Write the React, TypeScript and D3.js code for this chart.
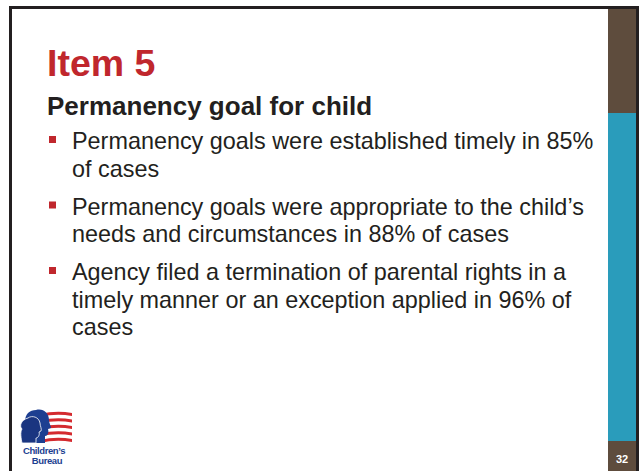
import * as d3 from 'd3';

const W = 640;
const H = 471;

const titleText = 'Item 5';
const subtitleText = 'Permanency goal for child';
const bulletLines: string[][] = [
  ['Permanency goals were established timely in 85%', 'of cases'],
  ['Permanency goals were appropriate to the child\u2019s', 'needs and circumstances in 88% of cases'],
  ['Agency filed a termination of parental rights in a', 'timely manner or an exception applied in 96% of', 'cases'],
];
const pageNumber = '32';
const logoWords = ['Children\u2019s', 'Bureau'];

const RED = '#c0272d';
const BROWN = '#5e4c3d';
const TEAL = '#2a9cbb';
const FRAME = '#231f20';
const FONT = '"Liberation Sans", Arial, Helvetica, sans-serif';

// vertical layout of the bullet lines: line step inside a bullet, gap between bullets
const LINE_STEP = 27.5;
const PARA_STEP = 38;
const FIRST_BASELINE = 149;

export default function App() {
  const baselines: number[][] = [];
  let y = FIRST_BASELINE;
  bulletLines.forEach((lines, i) => {
    if (i > 0) y += PARA_STEP;
    const row: number[] = [];
    lines.forEach((_, j) => {
      if (j > 0) y += LINE_STEP;
      row.push(y);
    });
    baselines.push(row);
  });

  // sidebar bands
  const band = d3.scaleLinear().domain([0, 1]).range([9, H]);
  const stripeY = d3.range(5).map((i) => 412 + i * 6.5);

  return (
    <div style={{ position: 'fixed', left: 0, top: 0, width: W, height: H, background: '#fff' }}>
      <svg width={W} height={H} style={{ display: 'block', fontFamily: FONT }}>
        <rect x={0} y={0} width={W} height={H} fill="#fff" />
        {/* frame */}
        <rect x={9} y={6} width={630} height={H} fill={FRAME} />
        <rect x={12} y={9} width={624} height={H} fill="#fff" />

        {/* right sidebar */}
        <rect x={608} y={band(0)} width={28} height={113 - band(0)} fill={BROWN} />
        <rect x={608} y={113} width={28} height={441 - 113} fill={TEAL} />
        <rect x={608} y={441} width={28} height={H - 441} fill={BROWN} />
        <text x={622} y={463} textAnchor="middle" fill="#fff" fontSize={11} fontWeight={700}>
          {pageNumber}
        </text>

        {/* titles */}
        <text x={47} y={76} fill={RED} fontSize={37.5} fontWeight={700}>
          {titleText}
        </text>
        <text x={47} y={115} fill="#231f20" fontSize={26} fontWeight={700}>
          {subtitleText}
        </text>

        {/* bullets */}
        {bulletLines.map((lines, i) => (
          <g key={i}>
            <rect x={49} y={baselines[i][0] - 13} width={7} height={7} fill={RED} />
            {lines.map((ln, j) => (
              <text key={j} x={72} y={baselines[i][j]} fill="#231f20" fontSize={23.4}>
                {ln}
              </text>
            ))}
          </g>
        ))}

        {/* Children's Bureau logo */}
        <g>
          {stripeY.map((sy, i) => (
            <path
              key={i}
              d={`M${40} ${sy + 2} Q${56} ${sy - 2} ${72} ${sy + 1} L${72} ${sy + 4} Q${56} ${sy + 1} ${40} ${sy + 5} Z`}
              fill="#d42a2f"
            />
          ))}
          <path
            d="M36 410 C43 408 49 413 49 420 C49 423 51 426 51 428 L48 429 C49 432 48 436 45 436 L45 443 L28 443 C27 438 26 433 28 429 C24 426 24 417 28 413 C30 411 33 410 36 410 Z"
            fill="#1d3f91"
          />
          <path
            d="M28 418 C32 415 39 417 40 423 C40 426 42 429 41 431 L39 432 C40 435 38 438 36 438 L36 443 L22 443 C21 438 20 432 22 429 C19 426 21 420 28 418 Z"
            fill="#1a3580"
            stroke="#fff"
            strokeWidth={0.8}
          />
          <text x={44} y={454} textAnchor="middle" fill="#1d3f91" fontSize={9.5} fontWeight={700} letterSpacing={-0.4}>
            {logoWords[0]}
          </text>
          <text x={47} y={464} textAnchor="middle" fill="#1d3f91" fontSize={9.5} fontWeight={700} letterSpacing={-0.4}>
            {logoWords[1]}
          </text>
        </g>
      </svg>
    </div>
  );
}
